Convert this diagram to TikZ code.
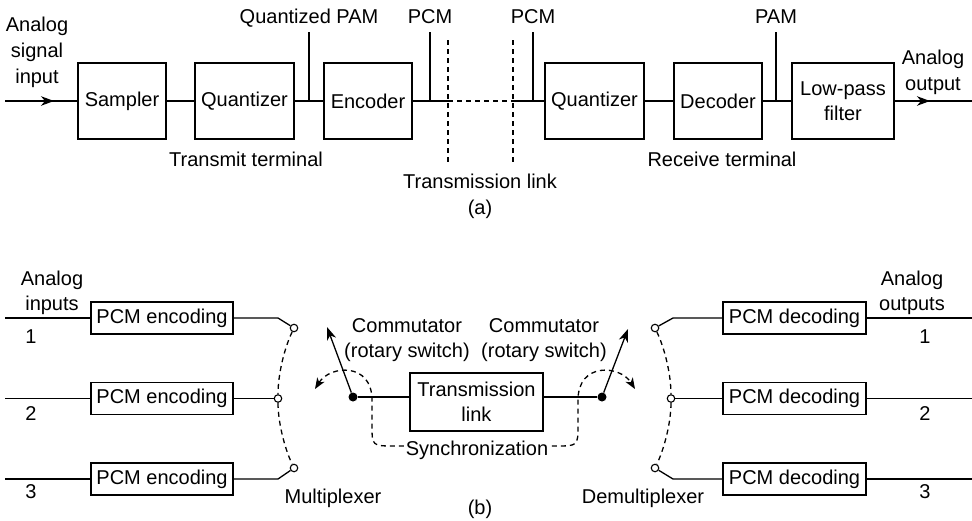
\documentclass[tikz,border=0pt]{standalone}
\usepackage{fontspec}
\setmainfont{Liberation Sans}
\usetikzlibrary{arrows.meta}
\begin{document}
\begin{tikzpicture}[x=1pt,y=-1pt,
  every node/.style={font=\fontsize{20}{25}\selectfont},
  blk/.style={draw, line width=1.3pt, inner sep=0pt, align=center},
  lbl/.style={inner sep=0pt, align=center},
  wire/.style={line width=1.3pt},
  dsh/.style={line width=1.3pt, dash pattern=on 5pt off 4pt},
  tip/.style={-{Stealth[length=13pt,width=9.5pt,inset=4pt]}},
  port/.style={circle, draw, fill=white, line width=1.1pt, inner sep=0pt, minimum size=7.5pt},
  hub/.style={circle, fill=black, inner sep=0pt, minimum size=9pt}]
\useasboundingbox (0,0) rectangle (972,520);

% ---------------- (a) ----------------
\node[blk, minimum width=88pt, minimum height=76pt] (smp) at (122,101) {Sampler};
\node[blk, minimum width=99pt, minimum height=76pt] (qz1) at (244.5,101) {Quantizer};
\node[blk, minimum width=88pt, minimum height=76pt] (enc) at (368,101) {Encoder};
\node[blk, minimum width=99pt, minimum height=76pt] (qz2) at (594.5,101) {Quantizer};
\node[blk, minimum width=88pt, minimum height=76pt] (dec) at (718,101) {Decoder};
\node[blk, minimum width=102pt, minimum height=76pt] (lpf) at (843,101) {Low-pass\\filter};

\coordinate (ain) at (5,101);
\coordinate (aintip) at (54,101);
\coordinate (qtap) at (309,101);  \coordinate (qtop) at (309,32);
\coordinate (ptap1) at (430,101); \coordinate (ptop1) at (430,32);
\coordinate (ptap2) at (533,101); \coordinate (ptop2) at (533,32);
\coordinate (mtap) at (776,101);  \coordinate (mtop) at (776,32);
\coordinate (lk1) at (448,101);   \coordinate (lk2) at (513,101);
\coordinate (lk1t) at (448,40);   \coordinate (lk1b) at (448,163);
\coordinate (lk2t) at (513,40);   \coordinate (lk2b) at (513,163);
\coordinate (aout) at (972,101);  \coordinate (aouttip) at (930,101);

\draw[wire] (ain) -- (smp);
\draw[wire,tip] (ain) -- (aintip);
\draw[wire] (smp) -- (qz1);
\draw[wire] (qz1) -- (enc);
\draw[wire] (qtap) -- (qtop);
\draw[wire] (enc) -- (lk1);
\draw[wire] (ptap1) -- (ptop1);
\draw[dsh] (lk1) -- (lk2);
\draw[wire] (lk2) -- (qz2);
\draw[wire] (ptap2) -- (ptop2);
\draw[wire] (qz2) -- (dec);
\draw[wire] (dec) -- (lpf);
\draw[wire] (mtap) -- (mtop);
\draw[wire] (lpf) -- (aout);
\draw[wire,tip] (lpf) -- (aouttip);
\draw[dsh] (lk1t) -- (lk1b);
\draw[dsh] (lk2t) -- (lk2b);

\node[lbl, anchor=base] (tq) at (309,23) {Quantized PAM};
\node[lbl, anchor=base] (tp1) at (430,23) {PCM};
\node[lbl, anchor=base] (tp2) at (533,23) {PCM};
\node[lbl, anchor=base] (tpam) at (776,23) {PAM};
\node[lbl, font=\fontsize{20}{26}\selectfont] (tin) at (37,52) {Analog\\signal\\input};
\node[lbl, font=\fontsize{20}{26}\selectfont] (tout) at (933,72.5) {Analog\\output};
\node[lbl, anchor=base] (ttx) at (246,166) {Transmit terminal};
\node[lbl, anchor=base] (trx) at (722,166) {Receive terminal};
\node[lbl, anchor=base] (tlk) at (480,188) {Transmission link};
\node[lbl, anchor=base] (ta) at (480,214) {(a)};

% ---------------- (b) ----------------
\node[blk, minimum width=142pt, minimum height=32pt] (e1) at (162,318) {PCM encoding};
\node[blk, minimum width=142pt, minimum height=32pt] (e2) at (162,398.5) {PCM encoding};
\node[blk, minimum width=142pt, minimum height=32pt] (e3) at (162,479) {PCM encoding};
\node[blk, minimum width=143pt, minimum height=32pt] (d1) at (794.5,318) {PCM decoding};
\node[blk, minimum width=143pt, minimum height=32pt] (d2) at (794.5,398.5) {PCM decoding};
\node[blk, minimum width=143pt, minimum height=32pt] (d3) at (794.5,479) {PCM decoding};

\coordinate (i1) at (5,318);   \coordinate (i2) at (5,398.5);   \coordinate (i3) at (5,479);
\coordinate (o1) at (972,318); \coordinate (o2) at (972,398.5); \coordinate (o3) at (972,479);
\draw[wire] (i1) -- (e1);
\draw[wire] (i2) -- (e2);
\draw[wire] (i3) -- (e3);
\draw[wire] (d1) -- (o1);
\draw[wire] (d2) -- (o2);
\draw[wire] (d3) -- (o3);

\node[port] (c1) at (294,328) {};
\node[port] (c2) at (278,398.5) {};
\node[port] (c3) at (294,468) {};
\coordinate (k1) at (278,318); \coordinate (k3) at (278,479);
\draw[wire] (e1) -- (k1) -- (c1);
\draw[wire] (e2) -- (c2);
\draw[wire] (e3) -- (k3) -- (c3);
\draw[dsh] (c1) .. controls (284,349) and (278,375) .. (c2);
\draw[dsh] (c2) .. controls (278,421) and (284,447) .. (c3);

\node[port] (c4) at (655,328) {};
\node[port] (c5) at (671,398.5) {};
\node[port] (c6) at (655,468) {};
\coordinate (k4) at (673,318); \coordinate (k6) at (673,479);
\draw[wire] (c4) -- (k4) -- (d1);
\draw[wire] (c5) -- (d2);
\draw[wire] (c6) -- (k6) -- (d3);
\draw[dsh] (c4) .. controls (665,349) and (671,375) .. (c5);
\draw[dsh] (c5) .. controls (671,421) and (665,447) .. (c6);

\node[blk, minimum width=133pt, minimum height=58pt] (tl) at (476.5,402) {Transmission\\link};
\node[hub] (h1) at (353,397) {};
\node[hub] (h2) at (602,397) {};
\coordinate (a1) at (327,327); \coordinate (a2) at (628,329);
\draw[wire] (h1) -- (tl.west |- h1);
\draw[wire] (h2) -- (tl.east |- h2);
\draw[wire,tip] (h1) -- (a1);
\draw[wire,tip] (h2) -- (a2);

\coordinate (s0) at (315,389); \coordinate (s5) at (635,389);
\draw[dsh, {Stealth[length=11pt,width=8.5pt,inset=3pt]}-{Stealth[length=11pt,width=8.5pt,inset=3pt]}]
  (s0) .. controls (330,365) and (372,362) .. (372,400) -- (372,425)
  .. controls (372,446) .. (395,446) -- (555,446)
  .. controls (578,446) .. (578,425) -- (578,400)
  .. controls (578,362) and (620,365) .. (s5);
\node[lbl, fill=white, inner xsep=2pt, inner ysep=1pt, anchor=base] (sync) at (477,455) {Synchronization};

\node[lbl] (cm1) at (407,340.3) {Commutator\\(rotary switch)};
\node[lbl] (cm2) at (544,340.3) {Commutator\\(rotary switch)};

\node[lbl] (ain2) at (52,293.3) {Analog\\inputs};
\node[lbl] (aout2) at (912,293.3) {Analog\\outputs};
\node[lbl, anchor=base] (n1) at (31,343) {1};
\node[lbl, anchor=base] (n2) at (31,420) {2};
\node[lbl, anchor=base] (n3) at (31,498) {3};
\node[lbl, anchor=base] (m1) at (925,343) {1};
\node[lbl, anchor=base] (m2) at (925,420) {2};
\node[lbl, anchor=base] (m3) at (925,498) {3};
\node[lbl, anchor=base] (mux) at (333,503) {Multiplexer};
\node[lbl, anchor=base] (dmx) at (643,503) {Demultiplexer};
\node[lbl, anchor=base] (tb) at (480,514) {(b)};
\end{tikzpicture}
\end{document}
